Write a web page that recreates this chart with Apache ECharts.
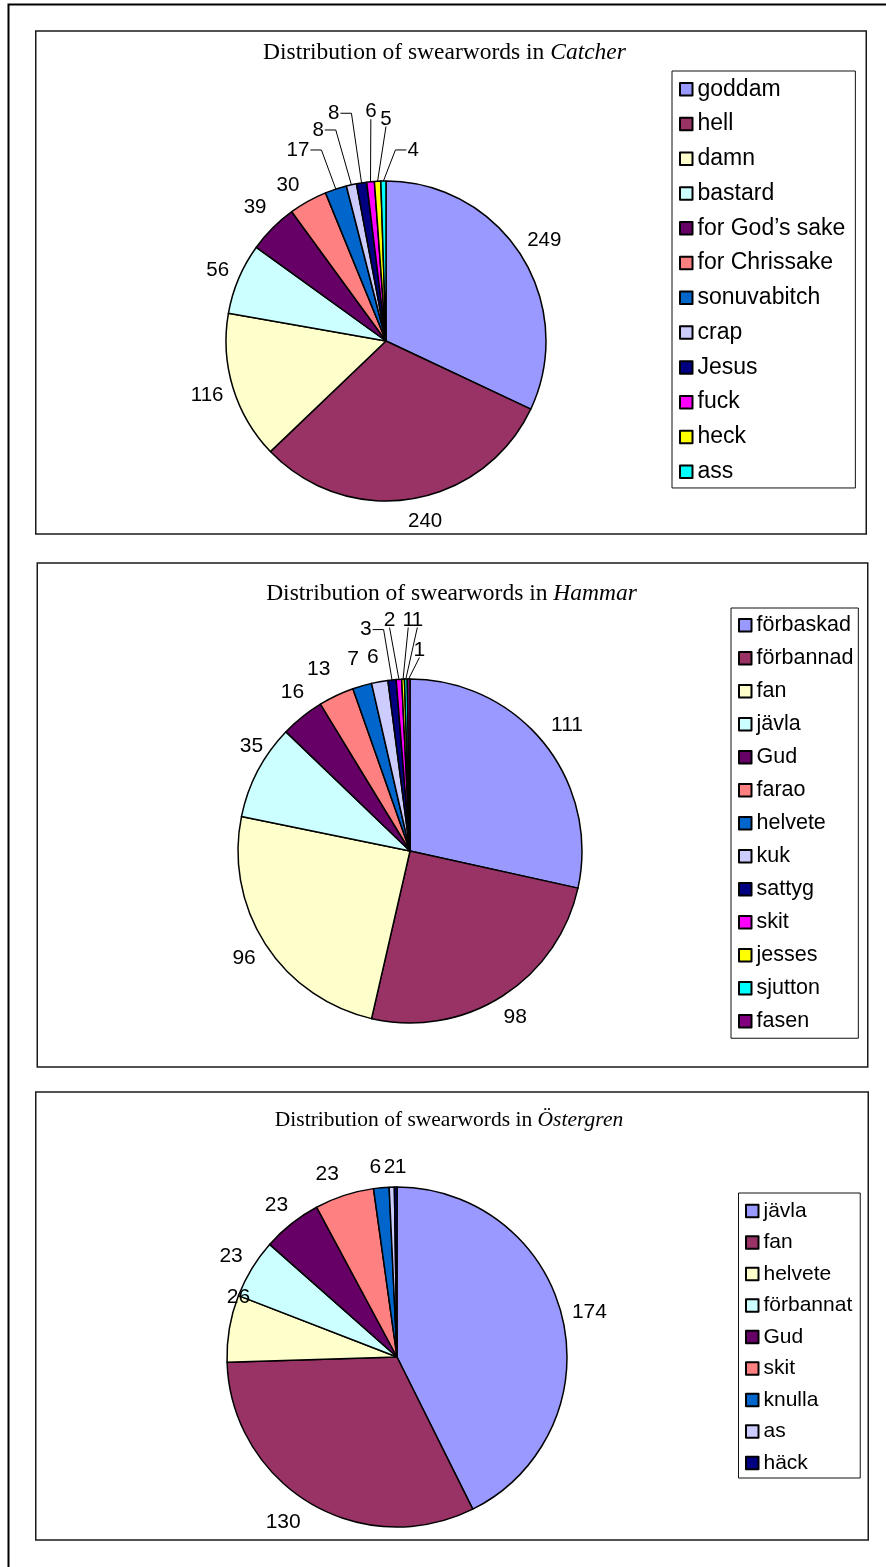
<!DOCTYPE html>
<html><head><meta charset="utf-8">
<script src="https://cdn.jsdelivr.net/npm/echarts@6/dist/echarts.min.js"></script>
<style>html,body{margin:0;padding:0;background:#fff;} #c{width:886px;height:1567px;}</style>
</head><body><div id="c"></div>
<script>
// ---------- data ----------
const catcherNames = ['goddam','hell','damn','bastard','for God’s sake','for Chrissake','sonuvabitch','crap','Jesus','fuck','heck','ass'];
const catcherValues = [249,240,116,56,39,30,17,8,8,6,5,4];
const hammarNames = ['förbaskad','förbannad','fan','jävla','Gud','farao','helvete','kuk','sattyg','skit','jesses','sjutton','fasen'];
const hammarValues = [111,98,96,35,16,13,7,6,3,2,1,1,1];
const ostergrenNames = ['jävla','fan','helvete','förbannat','Gud','skit','knulla','as','häck'];
const ostergrenValues = [174,130,26,23,23,23,6,2,1];
const titlePrefix = 'Distribution of swearwords in ';
const bookTitles = ['Catcher','Hammar','Östergren'];

// ---------- style ----------
const palette = ['#9999FF','#993366','#FFFFCC','#CCFFFF','#660066','#FF8080','#0066CC','#CCCCFF','#000080','#FF00FF','#FFFF00','#00FFFF','#800080'];
const SANS = '"Liberation Sans", Arial, sans-serif';
const SERIF = '"Liberation Serif", "Times New Roman", serif';

const panels = [
  { names: catcherNames, values: catcherValues, book: bookTitles[0],
    center: [386, 341], r: 160, gap: 10, labelSize: 20.5,
    title: [444.5, 53], titleSize: 23.5,
    box: [35.75, 31, 830.5, 503],
    legend: { left: 672, top: 71, fontSize: 23, gap: 11.76, padding: [6.8, 10, 4.8, 7] },
    offsets: {1:[10,1],4:[-1,-4],5:[-9,3.5],6:[-31,-18.5],7:[-29,-35.4],8:[-24.8,-50.2],9:[2.2,-50.7],10:[9.4,-43],11:[30,-12]},
    lines: [6,7,8,9,10,11] },
  { names: hammarNames, values: hammarValues, book: bookTitles[1],
    center: [410, 851], r: 172, gap: 12, labelSize: 21,
    title: [451.5, 594], titleSize: 23.5,
    box: [37.25, 563, 830.5, 504],
    legend: { left: 731, top: 608, fontSize: 21.5, gap: 11, padding: [6.25, 5, 6, 7] },
    offsets: {3:[16,-13],4:[6,-5],5:[-7,-4],6:[-3,-5],7:[-3,-3],8:[-24,-29],9:[-8,-38],10:[6,-38],11:[12,-38],12:[11,-8]},
    lines: [8,9,10,11,12] },
  { names: ostergrenNames, values: ostergrenValues, book: bookTitles[2],
    center: [397, 1357], r: 170, gap: 11, labelSize: 21,
    title: [449, 1120], titleSize: 21.5,
    box: [35.75, 1092, 832.5, 448],
    legend: { left: 738.5, top: 1193, fontSize: 21, gap: 10.5, padding: [7.5, 8, 4.5, 6.5] },
    offsets: {1:[-13,-3],2:[31,-27],5:[-10,0],6:[-4,0],7:[-1.5,0],8:[5,0]},
    lines: [] }
];

function makeLayout(p) {
  const total = p.values.reduce((a, b) => a + b, 0);
  const mids = []; let acc = 0;
  p.values.forEach(v => { mids.push((acc + v / 2) / total * 2 * Math.PI); acc += v; });
  const cx = p.center[0], cy = p.center[1], r = p.r;
  return function (params) {
    const i = params.dataIndex;
    const a = mids[i], sx = Math.sin(a), sy = -Math.cos(a);
    const len = String(p.values[i]).length;
    const ext = Math.abs(sx) * len * 5 + Math.abs(sy) * 9;
    const d = r + p.gap + ext;
    const o = p.offsets[i] || [0, 0];
    const x = cx + sx * d + o[0], y = cy + sy * d + o[1];
    const res = { x: x, y: y, align: 'center', verticalAlign: 'middle' };
    if (p.lines.indexOf(i) >= 0) {
      const ax = cx + sx * r, ay = cy + sy * r;
      const w = params.labelRect.width, h = params.labelRect.height;
      let p1, p2;
      if (Math.abs(ax - x) <= w) {
        p2 = [x, y + h / 2 - 3]; p1 = p2;
      } else {
        const side = ax > x ? 1 : -1;
        p2 = [x + side * (w / 2 + 1), y];
        p1 = [p2[0] + side * 11, y];
      }
      res.labelLinePoints = [[ax, ay], p1, p2];
    }
    return res;
  };
}

const series = [], legends = [], graphics = [];
graphics.push({ type: 'polyline', shape: { points: [[8.5, 1567], [8.5, 4.5], [886, 4.5]] },
  style: { fill: null, stroke: '#000', lineWidth: 2 }, z: 10 });

panels.forEach((p, k) => {
  series.push({
    type: 'pie', center: p.center, radius: p.r, startAngle: 90, clockwise: true,
    animation: false, silent: true, avoidLabelOverlap: false,
    itemStyle: { borderColor: '#000', borderWidth: 1.5 },
    label: { show: true, position: 'outside', formatter: '{c}', fontSize: p.labelSize,
             fontFamily: SANS, color: '#000' },
    labelLine: { show: false, lineStyle: { color: '#000', width: 1 } },
    emphasis: { disabled: true },
    labelLayout: makeLayout(p),
    data: p.names.map((n, i) => ({
      name: n, value: p.values[i],
      itemStyle: { color: palette[i] },
      labelLine: { show: p.lines.indexOf(i) >= 0, smooth: false, lineStyle: { color: '#000', width: 1 } }
    }))
  });
  legends.push({
    orient: 'vertical', left: p.legend.left, top: p.legend.top,
    padding: p.legend.padding, itemGap: p.legend.gap,
    itemWidth: 12.5, itemHeight: 12.5, icon: 'rect',
    backgroundColor: '#fff', borderColor: '#111', borderWidth: 1,
    selectedMode: false,
    itemStyle: { borderColor: '#000', borderWidth: 2 },
    textStyle: { fontFamily: SANS, fontSize: p.legend.fontSize, lineHeight: p.legend.fontSize, color: '#000', padding: [0, 0, 0, 0] },
    data: p.names.map((n, i) => ({ name: n, itemStyle: { color: palette[i], borderColor: '#000', borderWidth: 2 } }))
  });
  graphics.push({ type: 'rect', shape: { x: p.box[0], y: p.box[1], width: p.box[2], height: p.box[3] },
    style: { fill: null, stroke: '#1a1a1a', lineWidth: 1.5 }, z: 10 });
  graphics.push({ type: 'text', x: p.title[0], y: p.title[1], z: 10,
    style: { text: '{a|' + titlePrefix + '}{b|' + p.book + '}', align: 'center', verticalAlign: 'middle', fill: '#000',
      rich: { a: { fontFamily: SERIF, fontSize: p.titleSize, fill: '#000' },
              b: { fontFamily: SERIF, fontSize: p.titleSize, fontStyle: 'italic', fill: '#000' } } } });
});

const chart = echarts.init(document.getElementById('c'), null, { renderer: 'canvas' });
chart.setOption({
  backgroundColor: '#fff',
  animation: false,
  legend: legends,
  series: series,
  graphic: graphics
});
</script></body></html>
